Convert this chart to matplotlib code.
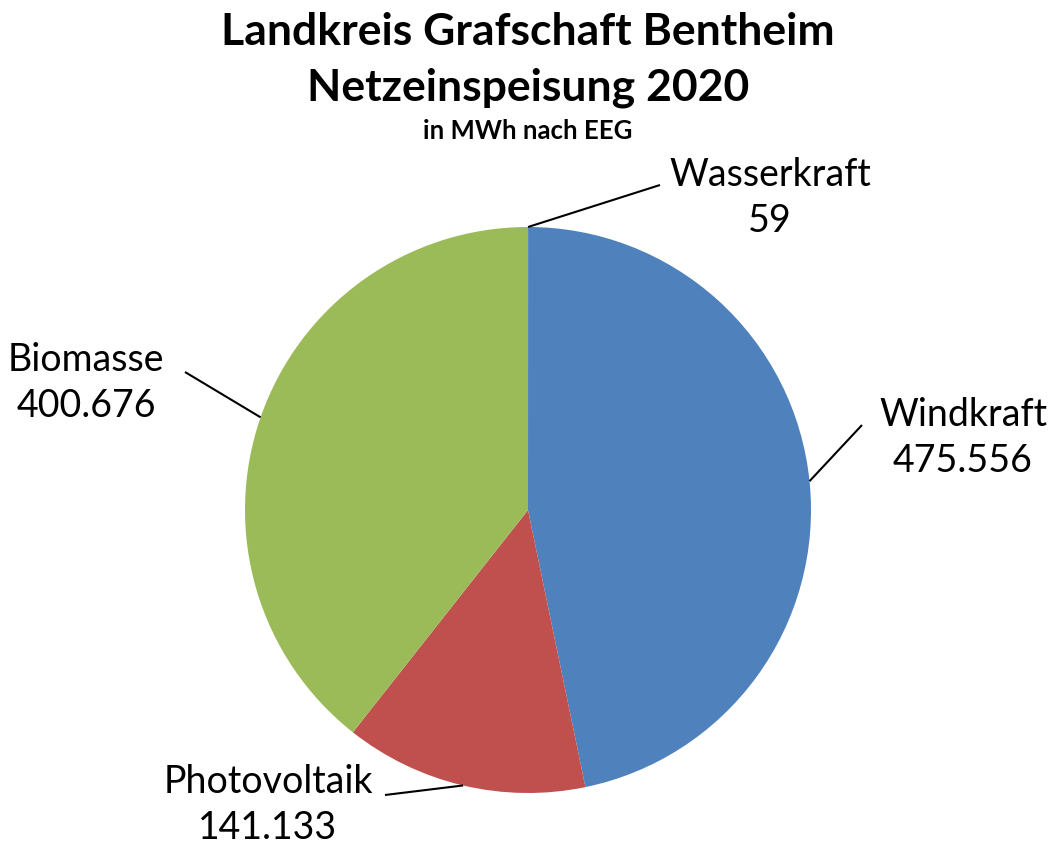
import numpy as np
import matplotlib
matplotlib.use("Agg")
import matplotlib.pyplot as plt

plt.rcParams['font.family'] = ['Lato', 'DejaVu Sans']

categories = ["Wasserkraft", "Windkraft", "Photovoltaik", "Biomasse"]
values = [59, 475556, 141133, 400676]
colors = ["#8064A2", "#4F81BD", "#C0504D", "#9BBB59"]

def fmt(v):
    return f"{v:,}".replace(",", ".")

W, H = 1057, 850
fig = plt.figure(figsize=(W / 100, H / 100), dpi=100)
ax = fig.add_axes([0, 0, 1, 1])

cx, cy, R = 528, H - 510, 283
wedges, _ = ax.pie(values, colors=colors, startangle=90, counterclock=False,
                   center=(cx, cy), radius=R, frame=True,
                   wedgeprops=dict(linewidth=0))
ax.set_xlim(0, W)
ax.set_ylim(0, H)
ax.set_aspect('equal')
ax.axis('off')

# label layout: (text center x, text center y, line end x, line end y) in pixels from top
layout = {
    "Wasserkraft": (770, 198, 660, 185),
    "Windkraft": (963, 438, 862, 425),
    "Photovoltaik": (268, 805, 385, 795),
    "Biomasse": (86, 383, 185, 372),
}

for w, cat, v in zip(wedges, categories, values):
    ang = np.deg2rad((w.theta1 + w.theta2) / 2)
    ax_x = cx + R * np.cos(ang)
    ax_y = cy + R * np.sin(ang)
    tx, ty, lx, ly = layout[cat]
    ax.plot([ax_x, lx], [ax_y, H - ly], color='black', lw=1.5, solid_capstyle='butt')
    ax.text(tx, H - ty, f"{cat}\n{fmt(v)}", ha='center', va='center',
            fontsize=27, linespacing=1.35, color='black')

ax.text(528, H - 32, "Landkreis Grafschaft Bentheim", ha='center', va='center',
        fontsize=32, fontweight='bold')
ax.text(528, H - 88, "Netzeinspeisung 2020", ha='center', va='center',
        fontsize=32, fontweight='bold')
ax.text(528, H - 131, "in MWh nach EEG", ha='center', va='center',
        fontsize=18.5, fontweight='bold')

fig.savefig("out.png", dpi=100, facecolor='white')
